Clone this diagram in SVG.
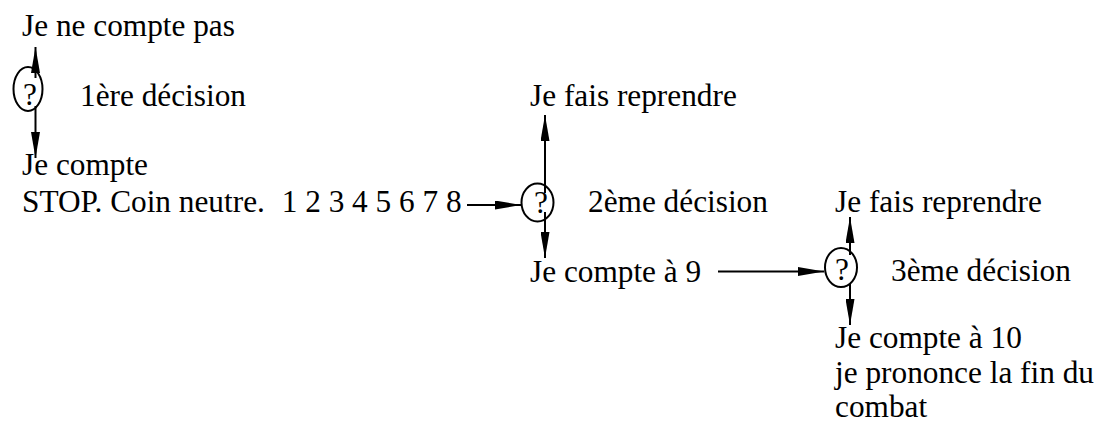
<svg xmlns="http://www.w3.org/2000/svg" width="1104" height="426" viewBox="0 0 1104 426">
  <style>
    .node ellipse { fill: none; stroke: #000; stroke-width: 2; }
    .conn line { stroke: #000; stroke-width: 2; fill: none; marker-end: url(#ah); }
  </style>
  <defs>
    <marker id="ah" viewBox="0 0 26 9" refX="26" refY="4.5" markerWidth="26" markerHeight="9" markerUnits="userSpaceOnUse" orient="auto">
      <path d="M0,0 L26,4.5 L0,9 z" fill="#000"/>
    </marker>
  </defs>
  <rect width="1104" height="426" fill="#fff"/>

  <g font-family="Liberation Serif, Times New Roman, serif" font-size="31.3" fill="#000">
  <g id="label-1-top"><text x="22" y="36">Je ne compte pas</text></g>
  <g id="decision-1" class="node">
    <ellipse cx="28" cy="89" rx="14.5" ry="22"/>
    <text text-anchor="middle" x="30" y="105">?</text>
  </g>
  <g id="label-1-name"><text x="80" y="106">1ère décision</text></g>
  <g id="label-1-bottom"><text x="22" y="175">Je compte</text></g>
  <g id="label-stop"><text x="22" y="212">STOP. Coin neutre. <tspan dx="9">1 2 3 4 5 6 7 8</tspan></text></g>

  <g id="label-2-top"><text x="530" y="106">Je fais reprendre</text></g>
  <g id="decision-2" class="node">
    <ellipse cx="537.5" cy="202.5" rx="16" ry="19"/>
    <text text-anchor="middle" x="541" y="213">?</text>
  </g>
  <g id="label-2-name"><text x="588" y="212">2ème décision</text></g>
  <g id="label-2-bottom"><text x="530" y="282">Je compte à 9</text></g>

  <g id="label-3-top"><text x="835" y="212">Je fais reprendre</text></g>
  <g id="decision-3" class="node">
    <ellipse cx="841" cy="267.5" rx="16" ry="19.5"/>
    <text text-anchor="middle" x="842" y="280">?</text>
  </g>
  <g id="label-3-name"><text x="891" y="281">3ème décision</text></g>
  <g id="label-3-bottom">
    <text x="835" y="348">Je compte à 10</text>
    <text x="835" y="383">je prononce la fin du</text>
    <text x="835" y="417">combat</text>
  </g>
  </g>

  <g id="connectors" class="conn">
    <line x1="35.5" y1="78" x2="35.5" y2="47"/>
    <line x1="35.5" y1="106" x2="35.5" y2="158"/>
    <line x1="467" y1="205" x2="521" y2="205"/>
    <line x1="545" y1="193" x2="545" y2="115"/>
    <line x1="545" y1="212" x2="545" y2="258"/>
    <line x1="718" y1="271.5" x2="824" y2="271.5"/>
    <line x1="850" y1="255" x2="850" y2="217"/>
    <line x1="850" y1="284" x2="850" y2="325"/>
  </g>
</svg>
